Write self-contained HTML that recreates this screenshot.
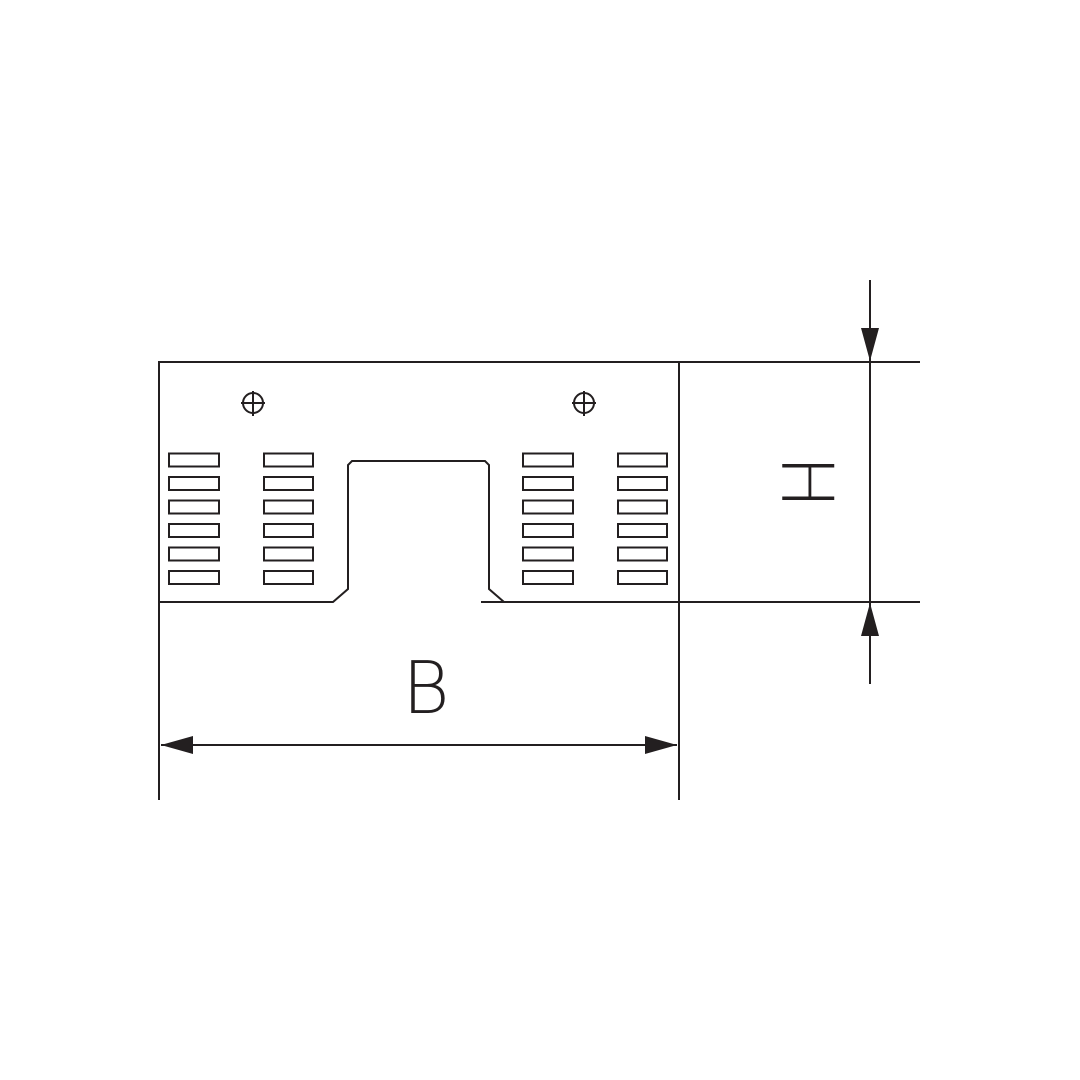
<!DOCTYPE html>
<html><head><meta charset="utf-8"><style>
html,body{margin:0;padding:0;background:#fff;}
svg{display:block;}
text{font-family:"DejaVu Sans","Liberation Sans",sans-serif;font-weight:200;fill:#231f20;}
</style></head><body>
<svg width="1080" height="1080" viewBox="0 0 1080 1080" xmlns="http://www.w3.org/2000/svg">
<g stroke="#231f20" stroke-width="2" fill="none">
<path d="M679,602 L504,602 L489,589 L489,465 L485,461 L352,461 L348,465 L348,589 L333,602 L159,602 L159,362 L679,362 Z"/>
<line x1="481" y1="602" x2="504" y2="602"/>
<line x1="679" y1="362" x2="920" y2="362"/>
<line x1="679" y1="602" x2="920" y2="602"/>
<line x1="159" y1="602" x2="159" y2="800"/>
<line x1="679" y1="602" x2="679" y2="800"/>
<line x1="870" y1="280" x2="870" y2="684"/>
<line x1="161" y1="745" x2="677" y2="745"/>
<circle cx="253" cy="403" r="10"/>
<line x1="253" y1="391" x2="253" y2="416"/><line x1="241" y1="403" x2="265" y2="403"/>
<circle cx="584" cy="403" r="10"/>
<line x1="584" y1="391" x2="584" y2="416"/><line x1="572" y1="403" x2="596" y2="403"/>
</g>
<g stroke="#231f20" stroke-width="2" fill="none">
<rect x="169" y="453.5" width="50" height="13"/><rect x="169" y="477" width="50" height="13"/><rect x="169" y="500.5" width="50" height="13"/><rect x="169" y="524" width="50" height="13"/><rect x="169" y="547.5" width="50" height="13"/><rect x="169" y="571" width="50" height="13"/>
<rect x="264" y="453.5" width="49" height="13"/><rect x="264" y="477" width="49" height="13"/><rect x="264" y="500.5" width="49" height="13"/><rect x="264" y="524" width="49" height="13"/><rect x="264" y="547.5" width="49" height="13"/><rect x="264" y="571" width="49" height="13"/>
<rect x="523" y="453.5" width="50" height="13"/><rect x="523" y="477" width="50" height="13"/><rect x="523" y="500.5" width="50" height="13"/><rect x="523" y="524" width="50" height="13"/><rect x="523" y="547.5" width="50" height="13"/><rect x="523" y="571" width="50" height="13"/>
<rect x="618" y="453.5" width="49" height="13"/><rect x="618" y="477" width="49" height="13"/><rect x="618" y="500.5" width="49" height="13"/><rect x="618" y="524" width="49" height="13"/><rect x="618" y="547.5" width="49" height="13"/><rect x="618" y="571" width="49" height="13"/>
</g>
<g fill="#231f20">
<polygon points="861,328 879,328 870,361"/>
<polygon points="861,636 879,636 870,603"/>
<polygon points="161,745 193,736 193,754"/>
<polygon points="677,745 645,736 645,754"/>
</g>
<text x="426" y="713" font-size="72" text-anchor="middle">B</text>
<text x="0" y="0" font-size="71" text-anchor="middle" transform="translate(782,482) rotate(90)">H</text>
</svg>
</body></html>
